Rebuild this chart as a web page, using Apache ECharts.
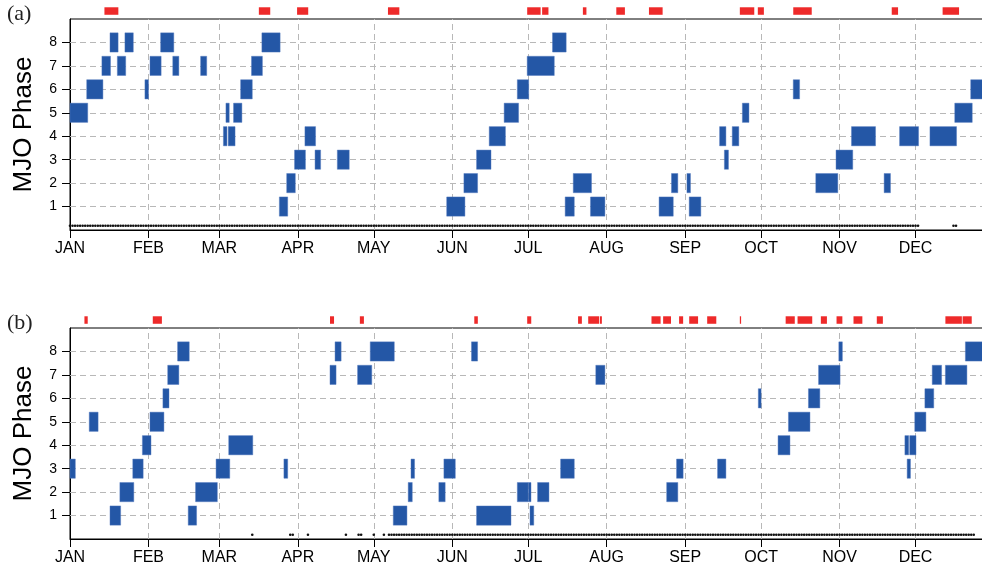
<!DOCTYPE html>
<html>
<head>
<meta charset="utf-8">
<script src="https://cdn.jsdelivr.net/npm/echarts@6/dist/echarts.min.js"></script>
<style>
html,body{margin:0;padding:0;background:#fff;overflow:hidden;}
#chart{width:982px;height:579px;}
</style>
</head>
<body>
<div id="chart"></div>
<script>
// Month boundaries (day of year) and labels
var monthStarts = [0, 31, 59, 90, 120, 151, 181, 212, 243, 273, 304, 334];
var monthLabels = ['JAN','FEB','MAR','APR','MAY','JUN','JUL','AUG','SEP','OCT','NOV','DEC'];
var phaseTicks = [1, 2, 3, 4, 5, 6, 7, 8];

// Panel (a): MJO events [startDay, endDay, phase]
var eventsA = [
  [0,7,5],[6.6,13,6],[12.6,16,7],[15.8,19,8],[18.7,22,7],[21.7,25,8],
  [29.6,31,6],[31.6,36,7],[35.8,41,8],[40.6,43,7],[51.6,54,7],
  [60.6,62,4],[62.5,65.2,4],[61.6,62.9,5],[64.6,67.9,5],[67.4,72,6],[71.7,76,7],[75.8,83,8],
  [82.7,86,1],[85.6,89,2],[88.7,93,3],[92.8,97,4],[96.8,99,3],[105.6,110.3,3],
  [148.8,156,1],[155.6,161,2],[160.6,166.3,3],[165.6,172,4],[171.5,177.2,5],[176.7,181.2,6],
  [180.6,191.3,7],[190.6,196,8],[195.6,199.2,1],[198.8,206,2],[205.6,211.3,1],
  [232.7,238.3,1],[237.6,240.1,2],[243.7,245.1,2],[244.6,249.2,1],
  [256.6,259.1,4],[258.5,260.1,3],[261.6,264.2,4],[265.6,268.2,5],[285.7,288.2,6],
  [294.6,303.3,2],[302.6,309.2,3],[308.7,318.2,4],[321.6,324.1,2],[327.7,335.2,4],
  [339.7,350.2,4],[349.5,356.4,5],[355.8,362,6]
];
// Panel (a): red marks at top [startDay, endDay]
var redA = [
  [13.6,19.1],[74.6,79.1],[89.7,94.1],[125.6,130.1],[180.6,185.9],[186.5,189],
  [202.6,204],[215.8,219.2],[228.7,234.1],[264.6,270.3],[271.7,274.1],[285.7,293],
  [324.6,327.1],[344.7,351.2]
];
// Panel (a): runs of daily dots at the bottom [firstDay, lastDay]
var dotsA = [[0,335],[349,350]];

// Panel (b): MJO events [startDay, endDay, phase]
var eventsB = [
  [0,2.1,3],[7.6,11.1,5],[15.8,20,1],[19.7,25.2,2],[24.8,28.9,3],[28.6,32,4],
  [31.6,37.1,5],[36.7,39.1,6],[38.6,43,7],[42.5,47.1,8],[46.7,50,1],[49.6,58.2,2],
  [57.7,63.1,3],[62.7,72.2,4],[84.5,86,3],
  [102.7,105.1,7],[104.7,107.1,8],[113.6,119.2,7],[118.6,128.1,8],[127.7,133.1,1],
  [133.6,135.2,2],[134.7,136.1,3],[145.7,148.2,2],[147.7,152.2,3],[158.6,161,8],
  [160.6,174.2,1],[176.7,181,2],[181.1,182.1,2],[181.7,183.2,1],[184.7,189.2,2],
  [193.8,199.2,3],[207.7,211.3,7],
  [235.7,240.1,2],[239.6,242.2,3],[255.8,259.1,3],[271.9,273,6],[279.7,284.4,4],
  [283.8,292.3,5],[291.7,296.2,6],[295.7,304.2,7],[303.7,305.1,8],
  [329.8,331.3,4],[330.7,332,3],[331.7,334.2,4],[333.7,338.1,5],[337.7,341.2,6],
  [340.6,344.3,7],[345.8,354.3,7],[353.7,362,8]
];
// Panel (b): red marks at top
var redB = [
  [5.7,7],[32.7,36.3],[102.7,104.3],[114.5,116.1],[159.7,161.1],[180.6,182.2],
  [200.7,202.2],[204.7,209],[209.3,210.1],[229.7,233.3],[234.3,237.4],[240.6,242.2],
  [244.6,248.1],[251.7,255.3],[264.6,265.1],[282.7,286.3],[287.4,293.2],[296.6,299],
  [302.8,305.1],[309.5,313],[318.7,321.1],[345.8,352.3],[352.6,356.2]
];
// Panel (b): runs of daily dots
var dotsB = [[72,72],[87,88],[94,94],[109,109],[114,115],[120,120],[124,124],[126,357]];

var BLUE = '#2457a6';
var RED = '#ee2a2a';
var GRIDC = '#b8b8b8';
var SANS = 'Liberation Sans, Arial, sans-serif';
var BOX_HALF = 0.41;
var DOT_Y = 0.18;

function boxRender(params, api) {
  var p0 = api.coord([api.value(0), api.value(2) + BOX_HALF]);
  var p1 = api.coord([api.value(1), api.value(2) - BOX_HALF]);
  return {
    type: 'rect',
    shape: {x: p0[0], y: p0[1], width: p1[0] - p0[0], height: p1[1] - p0[1]},
    style: {fill: BLUE, stroke: 'rgba(80,120,190,0.55)', lineWidth: 0.8}
  };
}
function redRender(params, api) {
  var p0 = api.coord([api.value(0), 9.5]);
  var p1 = api.coord([api.value(1), 9.18]);
  return {
    type: 'rect',
    shape: {x: p0[0], y: p0[1], width: Math.max(p1[0] - p0[0], 1.2), height: p1[1] - p0[1]},
    style: {fill: RED}
  };
}
function dotRender(params, api) {
  var a = api.value(0), b = api.value(1);
  var children = [];
  for (var d = a; d <= b; d++) {
    var p = api.coord([d, DOT_Y]);
    children.push({type: 'circle', shape: {cx: p[0], cy: p[1], r: 1.3}, style: {fill: '#111'}});
  }
  return {type: 'group', children: children};
}

function gridLineSeries(idx) {
  var data = [];
  monthStarts.slice(1).forEach(function (m) { data.push({xAxis: m}); });
  phaseTicks.forEach(function (p) { data.push({yAxis: p}); });
  return {
    type: 'scatter', xAxisIndex: idx, yAxisIndex: idx, data: [], z: 1, silent: true,
    markLine: {
      silent: true, z: 1, zlevel: 0, symbol: ['none', 'none'], label: {show: false},
      lineStyle: {color: GRIDC, type: [6, 4], width: 1},
      animation: false, data: data
    }
  };
}

function xAxisDef(idx) {
  return {
    type: 'value', gridIndex: idx, min: 0, max: 365,
    axisLine: {show: true, onZero: false, lineStyle: {color: '#000', width: 1}},
    axisTick: {show: true, customValues: monthStarts, length: 8, lineStyle: {color: '#000'}},
    axisLabel: {
      show: true, customValues: monthStarts, margin: 11, fontSize: 16, color: '#000', fontFamily: SANS,
      formatter: function (v) { var i = monthStarts.indexOf(Math.round(v)); return i >= 0 ? monthLabels[i] : ''; }
    },
    splitLine: {show: false}
  };
}
function yAxisDef(idx) {
  return {
    type: 'value', gridIndex: idx, min: 0, max: 9, interval: 1,
    name: 'MJO Phase', nameLocation: 'middle', nameRotate: 90, nameGap: 33,
    nameTextStyle: {fontSize: 26, color: '#000', fontFamily: SANS},
    axisLine: {show: true, lineStyle: {color: '#000', width: 1}},
    axisTick: {show: true, customValues: phaseTicks, length: 8, lineStyle: {color: '#000'}},
    axisLabel: {show: true, customValues: phaseTicks, margin: 13, fontSize: 14, color: '#000', fontFamily: SANS},
    splitLine: {show: false}
  };
}

var chart = echarts.init(document.getElementById('chart'), null, {renderer: 'canvas'});
chart.setOption({
  animation: false,
  backgroundColor: '#fff',
  grid: [
    {left: 70, width: 924, top: 19, height: 211, outerBoundsMode: 'none', containLabel: false, show: true, borderColor: '#000', borderWidth: 1, backgroundColor: 'transparent'},
    {left: 70, width: 924, top: 328, height: 211, outerBoundsMode: 'none', containLabel: false, show: true, borderColor: '#000', borderWidth: 1, backgroundColor: 'transparent'}
  ],
  xAxis: [xAxisDef(0), xAxisDef(1)],
  yAxis: [yAxisDef(0), yAxisDef(1)],
  graphic: [
    {type: 'text', left: 7, top: 3, style: {text: '(a)', fontSize: 22, fontFamily: 'Liberation Serif, Times New Roman, serif', fill: '#222'}},
    {type: 'text', left: 7, top: 312, style: {text: '(b)', fontSize: 22, fontFamily: 'Liberation Serif, Times New Roman, serif', fill: '#222'}}
  ],
  series: [
    gridLineSeries(0),
    gridLineSeries(1),
    {type: 'custom', xAxisIndex: 0, yAxisIndex: 0, data: eventsA, renderItem: boxRender, z: 10, clip: false},
    {type: 'custom', xAxisIndex: 1, yAxisIndex: 1, data: eventsB, renderItem: boxRender, z: 10, clip: false},
    {type: 'custom', xAxisIndex: 0, yAxisIndex: 0, data: redA, renderItem: redRender, z: 10, clip: false},
    {type: 'custom', xAxisIndex: 1, yAxisIndex: 1, data: redB, renderItem: redRender, z: 10, clip: false},
    {type: 'custom', xAxisIndex: 0, yAxisIndex: 0, data: dotsA, renderItem: dotRender, z: 10, clip: false},
    {type: 'custom', xAxisIndex: 1, yAxisIndex: 1, data: dotsB, renderItem: dotRender, z: 10, clip: false}
  ]
});
</script>
</body>
</html>
